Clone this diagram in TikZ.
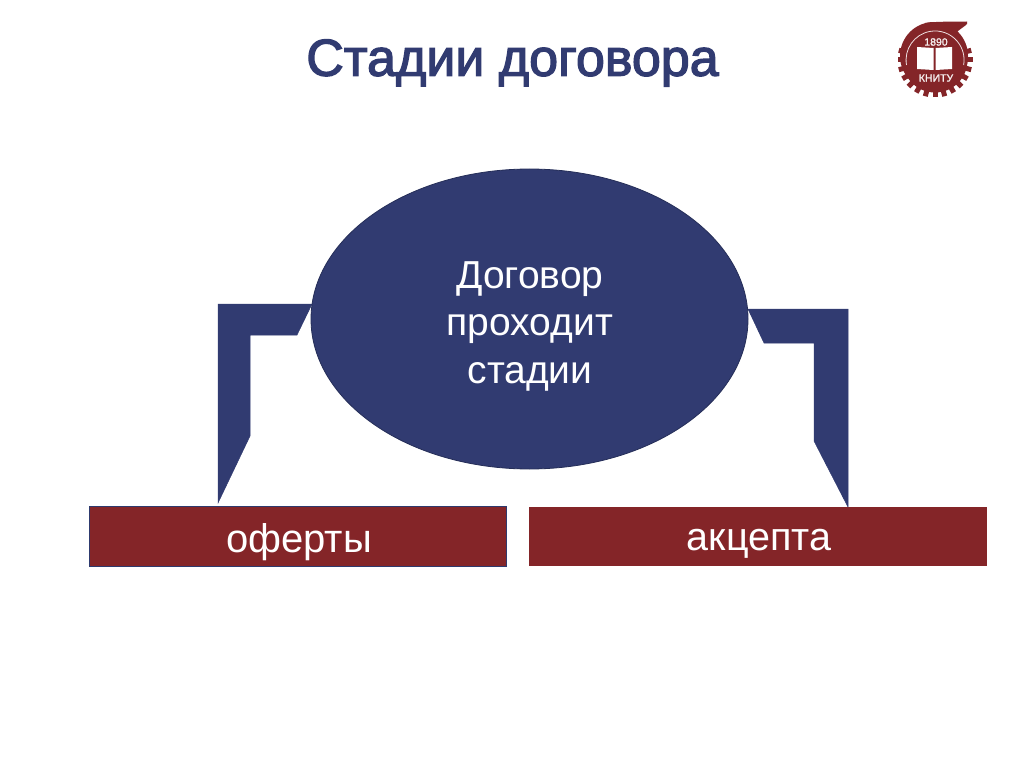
\documentclass[tikz,border=0pt]{standalone}
\usepackage{fontspec}
\setmainfont{Liberation Sans}
\newfontfamily\titlefont[FakeBold=2.5]{Liberation Sans}
\newfontfamily\logofont[FakeBold=1.5]{Liberation Sans}
\definecolor{navy}{HTML}{313B71}
\definecolor{wine}{HTML}{842528}
\definecolor{edgeb}{HTML}{2E3A6E}
\usetikzlibrary{shapes.geometric}
\tikzset{
 x=1pt,y=-1pt,
 arm/.style={fill=navy,draw=navy,line width=.5pt},
 oval/.style={ellipse,fill=navy,draw=edgeb!80!black,line width=.8pt,minimum width=437pt,minimum height=300pt,inner sep=0pt},
 stage/.style={fill=wine,draw=edgeb,line width=.8pt,inner sep=0pt,text=white,text depth=0pt,font=\fontsize{40}{40}\selectfont},
 ovaltext/.style={text=white,align=center,font=\fontsize{39}{47.5}\selectfont},
 titletext/.style={text=navy,inner sep=0pt,font=\titlefont\fontsize{52}{56}\selectfont},
 logotext/.style={text=white!92!wine,inner sep=0pt,font=\logofont},
}
\begin{document}
\begin{tikzpicture}
\useasboundingbox (0,0) rectangle (1024,767);
\fill[white] (0,0) rectangle (1024,767);
\node[titletext] (title) at (512.5,63) {Стадии договора};
\draw[arm] (218,304) -- (312,304) -- (297,335) -- (250,335) -- (250,436) -- (218,503) -- cycle;
\draw[arm] (748,309) -- (848,309) -- (848,507) -- (814,441) -- (814,343) -- (764,343) -- cycle;
\node[oval] (contract) at (529.5,319) {};
\node[ovaltext] (contracttext) at (530,326) {Договор\\проходит\\стадии};
\node[stage,text height=32pt,minimum width=417pt,minimum height=60pt] (offer) at (297.5,536) {\hspace{3pt}оферты};
\node[stage,draw=wine,text height=28pt,minimum width=457pt,minimum height=58pt,font=\fontsize{39.5}{40}\selectfont] (accept) at (757.5,536) {\hspace{3pt}акцепта};
% logo
\fill[wine] (934,56) circle (34);
\fill[wine] (935,60) circle (32.5);
\foreach \a in {-15,0,...,195}{
 \fill[wine,rotate around={-\a:(935,60)}] (966,57.5) rectangle (972.5,62.5);
}
\fill[wine] (925,23) .. controls (940,21) and (955,22) .. (967,21.5) -- (967,24)
  .. controls (964,27) and (960,29) .. (957,32) -- (940,35) -- cycle;
\draw[white!85!wine,line width=.8pt] (906.5,65) arc[start angle=170,end angle=370,radius=29];
\fill[white] (917,47) -- (933.5,48) -- (933.5,70) -- (917,69) -- cycle;
\fill[white] (935.5,48) -- (952,47) -- (952,69) -- (935.5,70) -- cycle;
\node[logotext,font=\logofont\fontsize{10.5}{10.5}\selectfont] (year) at (936,42) {1890};
\node[logotext,font=\logofont\fontsize{10.5}{10.5}\selectfont] (uni) at (936,78) {КНИТУ};
\end{tikzpicture}
\end{document}
